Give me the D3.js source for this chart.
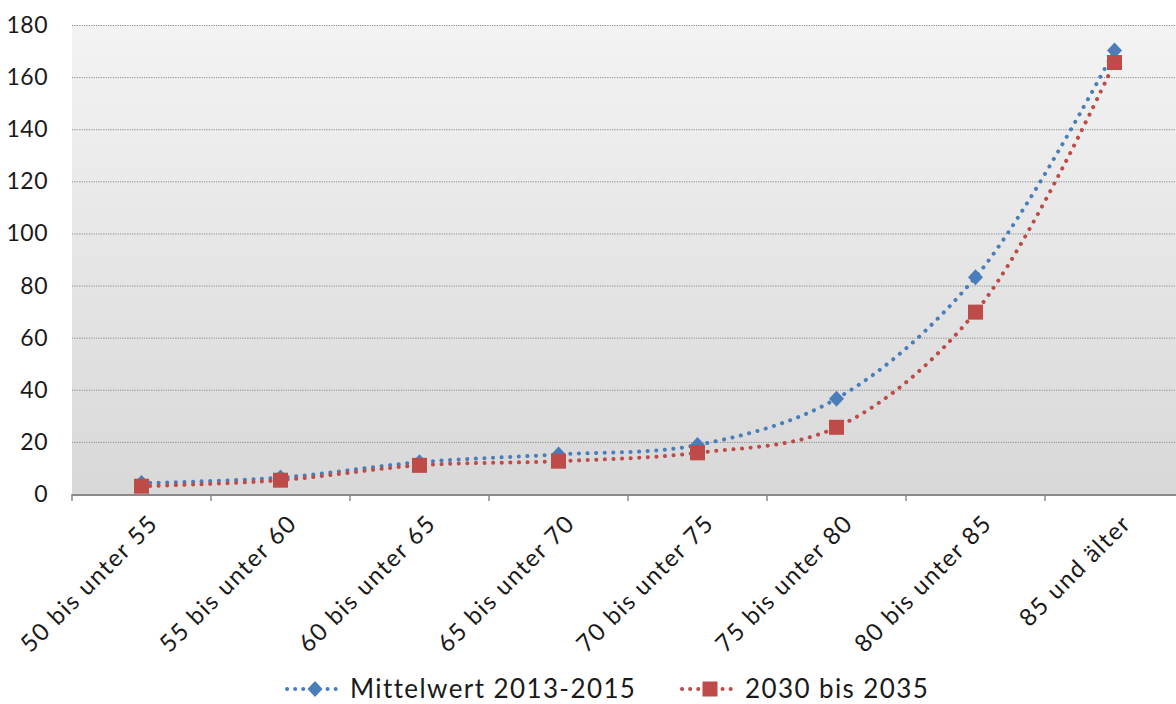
<!DOCTYPE html>
<html>
<head>
<meta charset="utf-8">
<script src="https://cdn.jsdelivr.net/npm/d3@7"></script>
<style>
  body { margin: 0; background: #fff; overflow: hidden; }
  text { font-family: "Lato", "DejaVu Sans", sans-serif; fill: #1a1a1a; }
</style>
</head>
<body>
<svg id="chart"></svg>
<script>
const categories = ["50 bis unter 55", "55 bis unter 60", "60 bis unter 65", "65 bis unter 70",
  "70 bis unter 75", "75 bis unter 80", "80 bis unter 85", "85 und älter"];
const mittelwert = [4.2, 6.3, 12.2, 15.2, 18.8, 36.6, 83.2, 170.2];
const zukunft = [3.0, 5.3, 11.0, 12.6, 15.8, 25.6, 69.8, 165.6];
const seriesNames = ["Mittelwert 2013-2015", "2030 bis 2035"];
const yTicks = [0, 20, 40, 60, 80, 100, 120, 140, 160, 180];

const width = 1176, height = 704;
const plotLeft = 72, plotTop = 25, plotRight = 1184, plotBottom = 494;

const svg = d3.select("#chart").attr("width", width).attr("height", height)
  .style("display", "block");

const x = d3.scaleBand().domain(categories).range([plotLeft, plotRight]);
const y = d3.scaleLinear().domain([0, 180]).range([plotBottom, plotTop]);

// background gradient
const grad = svg.append("defs").append("linearGradient")
  .attr("id", "bg").attr("x1", 0).attr("y1", 0).attr("x2", 0).attr("y2", 1);
grad.append("stop").attr("offset", "0%").attr("stop-color", "#f3f3f3");
grad.append("stop").attr("offset", "100%").attr("stop-color", "#d8d8d8");

svg.append("rect")
  .attr("x", plotLeft).attr("y", plotTop)
  .attr("width", plotRight - plotLeft).attr("height", plotBottom - plotTop)
  .attr("fill", "url(#bg)");

// grid lines
svg.append("g").selectAll("line").data(yTicks.filter(d => d > 0)).enter().append("line")
  .attr("x1", plotLeft).attr("x2", plotRight)
  .attr("y1", d => y(d) + 0.5).attr("y2", d => y(d) + 0.5)
  .attr("stroke", "#8c8c8c").attr("stroke-width", 1)
  .attr("stroke-dasharray", "1.2 1.2");

// y labels
svg.append("g").selectAll("text").data(yTicks).enter().append("text")
  .attr("x", 48).attr("y", d => y(d))
  .attr("dy", "0.35em")
  .attr("text-anchor", "end")
  .attr("font-size", 23)
  .attr("letter-spacing", 0.5)
  .text(d => d);

// x axis
const xAxis = svg.append("g");
xAxis.append("line")
  .attr("x1", plotLeft).attr("x2", plotRight)
  .attr("y1", plotBottom + 1).attr("y2", plotBottom + 1)
  .attr("stroke", "#8a8a8a").attr("stroke-width", 2);
const tickPos = categories.map(c => x(c)).concat([plotRight]);
xAxis.selectAll(".tk").data(tickPos).enter().append("line")
  .attr("x1", d => d).attr("x2", d => d)
  .attr("y1", plotBottom).attr("y2", plotBottom + 7)
  .attr("stroke", "#8a8a8a").attr("stroke-width", 1.5);
xAxis.selectAll("text").data(categories).enter().append("text")
  .attr("transform", d => "translate(" + (x(d) + x.bandwidth() / 2 + 12) + "," + (plotBottom + 25) + ")rotate(-45)")
  .attr("text-anchor", "end")
  .attr("dy", "0.35em")
  .attr("font-size", 24)
  .attr("letter-spacing", 1.5)
  .text(d => d);

const colors = ["#4a7ebb", "#be4b48"];
const allSeries = [mittelwert, zukunft];

const line = d3.line()
  .x((d, i) => x(categories[i]) + x.bandwidth() / 2)
  .y(d => y(d))
  .curve(d3.curveCatmullRom.alpha(0.5));

function diamond(g, cx, cy, c) {
  g.append("path")
    .attr("d", "M0,-8L7.5,0L0,8L-7.5,0Z")
    .attr("transform", "translate(" + cx + "," + cy + ")")
    .attr("fill", c);
}
function square(g, cx, cy, c) {
  g.append("rect")
    .attr("x", cx - 7.5).attr("y", cy - 7.5)
    .attr("width", 15).attr("height", 15)
    .attr("fill", c);
}
const markers = [diamond, square];

allSeries.forEach((s, k) => {
  svg.append("path")
    .datum(s)
    .attr("d", line)
    .attr("fill", "none")
    .attr("stroke", colors[k])
    .attr("stroke-width", 4)
    .attr("stroke-linecap", "round")
    .attr("stroke-dasharray", "0.1 8.5");
});
allSeries.forEach((s, k) => {
  const g = svg.append("g");
  s.forEach((v, i) => markers[k](g, x(categories[i]) + x.bandwidth() / 2, y(v), colors[k]));
});

// legend
const legend = svg.append("g");
const legendItems = [{ x: 287, tx: 350 }, { x: 682, tx: 745 }];
legendItems.forEach((it, k) => {
  legend.append("line")
    .attr("x1", it.x).attr("x2", it.x + 56)
    .attr("y1", 689).attr("y2", 689)
    .attr("stroke", colors[k]).attr("stroke-width", 4)
    .attr("stroke-linecap", "round")
    .attr("stroke-dasharray", "0.1 8");
  markers[k](legend, it.x + 28, 689, colors[k]);
  legend.append("text")
    .attr("x", it.tx).attr("y", 698)
    .attr("font-size", 26)
    .attr("letter-spacing", 1.4)
    .text(seriesNames[k]);
});
</script>
</body>
</html>
